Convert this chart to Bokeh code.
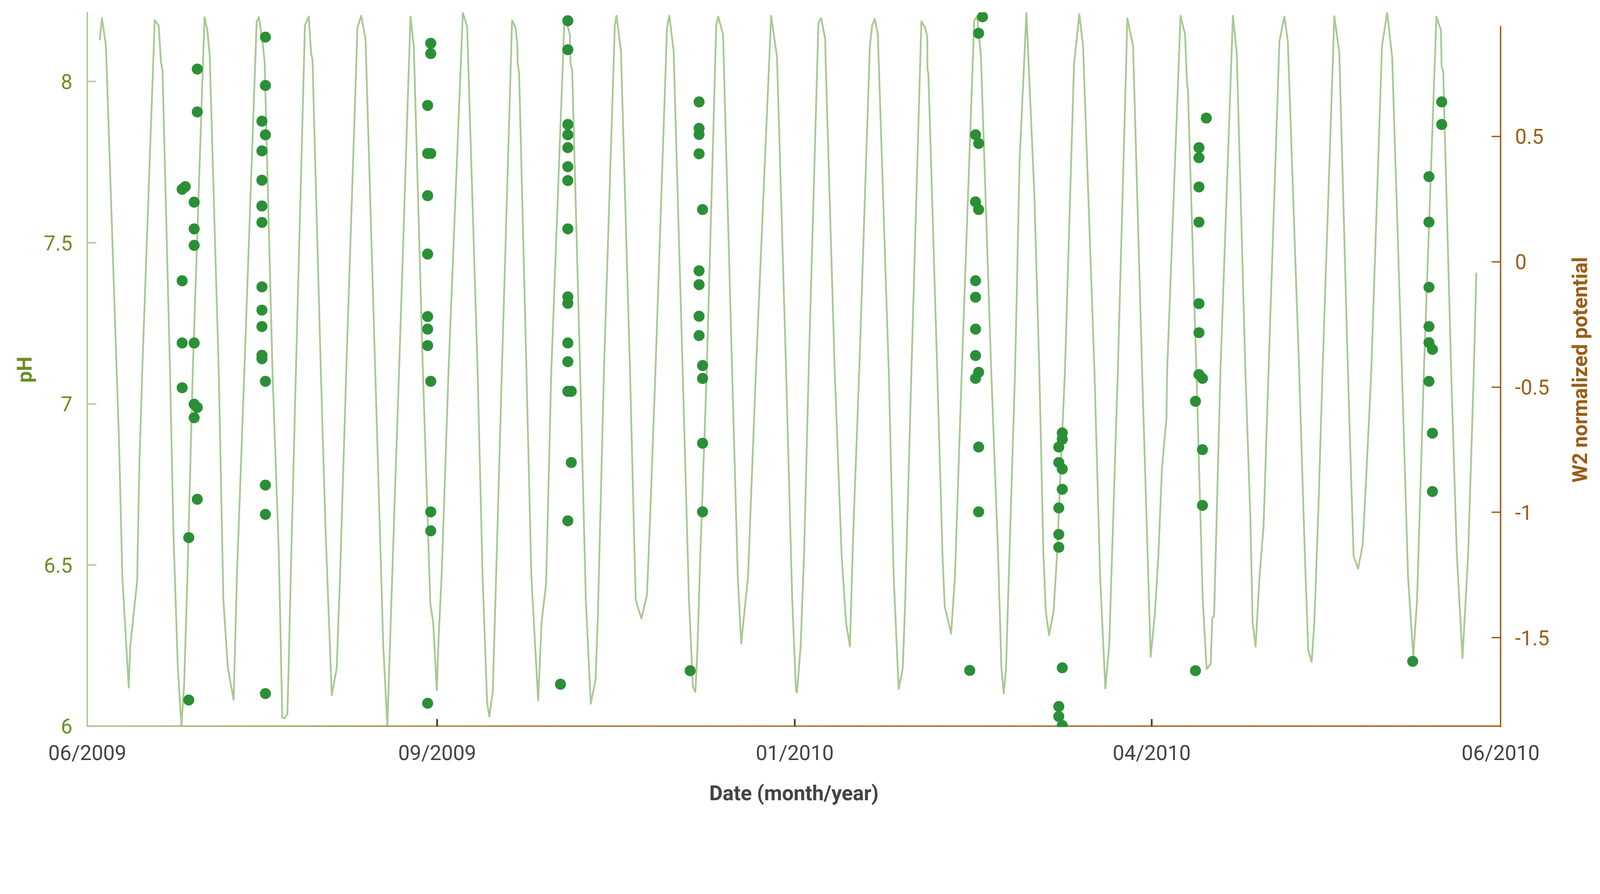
import math
import numpy as np
from bokeh.plotting import figure
from bokeh.layouts import row
from bokeh.models import Range1d, LinearAxis, FixedTicker
from bokeh.core.properties import value
from bokeh.embed import file_html
from bokeh.resources import INLINE

# ---------------- data ----------------
# x in days after the start of the record (06/2009)
x_tick_days = [0, 90.35, 182.71, 274.90, 365]
x_tick_labels = ["06/2009", "09/2009", "01/2010", "04/2010", "06/2010"]

ph_ticks = [6, 6.5, 7, 7.5, 8]
ph_tick_labels = ["6", "6.5", "7", "7.5", "8"]

pot_ticks = [-1.5, -1, -0.5, 0, 0.5]
pot_tick_labels = ["-1.5", "-1", "-0.5", "0", "0.5"]

# W2 normalized potential (right axis) - light green line
line_day = [
    3.20, 3.78, 4.82, 7.58, 8.18, 9.05, 10.70, 11.11, 12.86, 13.46,
    14.19, 17.41, 18.42, 19.02, 19.43, 21.36, 22.23, 23.38, 24.30, 24.99,
    25.86, 26.63, 27.24, 30.27, 31.00, 31.61, 33.94, 35.14, 36.30, 37.80,
    38.63, 40.56, 43.74, 44.32, 45.38, 45.79, 47.82, 49.47, 50.35, 50.94,
    51.67, 51.99, 52.68, 53.88, 56.21, 57.19, 57.79, 58.15, 60.31, 61.50,
    63.13, 64.41, 65.27, 66.88, 69.77, 70.74, 71.86, 74.36, 76.43, 77.49,
    79.32, 80.52, 83.46, 84.33, 86.67, 88.60, 89.34, 90.26, 90.78, 91.54,
    93.29, 96.99, 98.10, 100.80, 102.09, 103.26, 103.85, 104.72, 105.41, 107.07,
    109.70, 110.59, 111.05, 111.16, 111.52, 113.41, 114.69, 116.44, 117.32, 118.49,
    119.84, 123.18, 123.65, 124.64, 124.81, 125.23, 127.28, 128.75, 130.03, 131.26,
    131.85, 133.43, 136.24, 136.65, 137.82, 140.16, 141.63, 143.10, 144.55, 145.44,
    146.73, 149.72, 150.31, 151.42, 153.76, 155.39, 156.40, 157.04, 157.56, 158.33,
    159.98, 162.43, 162.96, 164.19, 166.53, 168.00, 168.87, 170.64, 172.68, 176.61,
    178.13, 180.47, 182.05, 183.04, 183.31, 184.23, 185.12, 186.30, 188.82, 189.51,
    190.57, 190.69, 193.03, 194.80, 195.96, 196.95, 197.83, 199.36, 202.11, 202.70,
    203.40, 204.17, 206.98, 208.26, 209.55, 210.60, 211.19, 212.84, 215.41, 216.35,
    216.94, 216.98, 217.23, 219.51, 220.86, 221.44, 223.09, 224.08, 225.85, 229.06,
    229.82, 230.81, 233.45, 235.22, 236.09, 236.69, 237.27, 238.16, 239.61, 240.78,
    242.54, 244.59, 245.87, 246.93, 247.53, 248.40, 249.57, 250.45, 252.49, 254.84,
    256.19, 257.17, 260.11, 261.58, 262.92, 263.92, 266.15, 268.61, 270.08, 270.66,
    272.42, 274.63, 275.77, 276.65, 277.53, 278.71, 278.88, 282.34, 283.51, 283.98,
    284.27, 286.44, 288.08, 289.08, 290.13, 290.54, 291.01, 292.65, 295.87, 296.86,
    299.09, 300.39, 300.96, 301.73, 302.73, 303.78, 305.07, 307.88, 309.17, 310.05,
    312.98, 314.44, 315.32, 316.20, 316.90, 317.96, 319.02, 322.06, 323.35, 325.57,
    326.46, 327.04, 328.21, 329.38, 330.26, 331.61, 334.37, 335.72, 337.00, 339.52,
    341.10, 342.45, 343.43, 345.20, 348.42, 349.59, 349.77, 350.18, 352.23, 353.69,
    355.16, 356.63, 358.09, 358.74,
]
line_pot = [
    0.883, 0.972, 0.861, -0.435, -0.708, -1.257, -1.699, -1.531, -1.275, -0.800,
    -0.435, 0.963, 0.943, 0.797, 0.760, -0.435, -1.074, -1.621, -1.852, -1.695,
    -1.257, -0.800, -0.435, 0.975, 0.924, 0.824, -0.435, -1.348, -1.621, -1.748,
    -1.257, -0.435, 0.956, 0.975, 0.861, 0.797, -0.435, -1.165, -1.818, -1.821,
    -1.804, -1.621, -1.165, -0.435, 0.943, 0.978, 0.833, 0.806, -0.435, -1.056,
    -1.729, -1.621, -1.257, -0.435, 0.934, 0.981, 0.888, -0.435, -1.531, -1.852,
    -0.983, -0.435, 0.978, 0.856, -0.435, -1.366, -1.439, -1.709, -1.485, -1.239,
    -0.435, 0.993, 0.938, -0.435, -1.257, -1.759, -1.814, -1.713, -1.348, -0.435,
    0.963, 0.934, 0.870, 0.788, 0.755, -0.435, -1.257, -1.750, -1.439, -1.284,
    -0.435, 0.947, 0.961, 0.906, 0.788, 0.765, -0.435, -1.348, -1.763, -1.668,
    -1.421, -0.435, 0.943, 0.981, 0.842, -0.435, -1.348, -1.423, -1.329, -0.983,
    -0.435, 0.934, 0.981, 0.842, -0.435, -1.348, -1.695, -1.716, -1.549, -1.165,
    -0.435, 0.943, 0.977, 0.906, -0.435, -1.257, -1.523, -1.257, -0.435, 0.981,
    0.815, -0.435, -1.348, -1.713, -1.718, -1.531, -1.165, -0.435, 0.952, 0.972,
    0.888, 0.797, -0.435, -1.165, -1.439, -1.535, -1.074, -0.435, 0.861, 0.943,
    0.968, 0.906, -0.435, -1.257, -1.704, -1.622, -1.375, -0.435, 0.959, 0.934,
    0.897, 0.769, 0.747, -0.435, -1.165, -1.375, -1.483, -1.257, -0.435, 0.961,
    0.979, 0.815, -0.435, -1.165, -1.622, -1.722, -1.622, -1.165, -0.435, 0.404,
    0.993, 0.267, -0.435, -1.165, -1.393, -1.489, -1.393, -1.165, -0.435, 0.788,
    0.987, 0.861, -0.435, -1.257, -1.702, -1.531, -0.435, 0.970, 0.861, 0.541,
    -0.435, -1.576, -1.393, -1.165, -0.827, -0.622, -0.435, 0.981, 0.906, 0.724,
    0.678, -0.435, -1.348, -1.625, -1.604, -1.421, -1.412, -0.435, 0.981, 0.833,
    -0.435, -1.028, -1.439, -1.535, -1.257, -1.056, -0.435, 0.879, 0.977, 0.879,
    -0.435, -1.165, -1.549, -1.596, -1.439, -0.983, -0.435, 0.979, 0.833, -0.435,
    -0.891, -1.174, -1.224, -1.129, -0.873, -0.435, 0.861, 0.995, 0.815, -0.435,
    -1.257, -1.576, -1.348, -0.435, 0.977, 0.924, 0.778, 0.760, -0.435, -1.165,
    -1.581, -1.165, -0.435, -0.044,
]

# pH samples (left axis) - dark green dots, nine sampling campaigns
ph_day = [
    28.4, 28.4, 24.5, 25.3, 27.6, 27.6, 27.6, 24.5, 24.5, 27.6, 24.5, 27.6, 28.4, 27.6, 28.4, 26.2, 26.2,
    46.0, 46.0, 45.1, 46.0, 45.1, 45.1, 45.1, 45.1, 45.1, 45.1, 45.1, 45.1, 45.1, 46.0, 46.0, 46.0, 46.0,
    88.7, 88.7, 87.9, 87.9, 88.7, 87.9, 87.9, 87.9, 87.9, 87.9, 88.7, 88.7, 88.7, 87.9,
    124.1, 124.1, 124.1, 124.1, 124.1, 124.1, 124.1, 124.1, 124.1, 124.1, 124.1, 124.1, 124.1, 125.0, 125.0, 124.1, 122.2,
    158.0, 158.0, 158.0, 158.0, 158.9, 158.0, 158.0, 158.0, 158.0, 158.9, 158.9, 158.9, 158.9, 155.7,
    231.2, 230.2, 229.4, 230.2, 229.4, 230.2, 229.4, 229.4, 229.4, 229.4, 230.2, 229.4, 230.2, 230.2, 227.9,
    251.8, 251.8, 250.9, 250.9, 251.8, 251.8, 250.9, 250.9, 250.9, 251.8, 250.9, 250.9, 251.8,
    289.0, 287.1, 287.1, 287.1, 287.1, 287.1, 287.1, 287.1, 288.0, 286.2, 288.0, 288.0, 286.2,
    349.8, 349.8, 346.5, 346.5, 346.5, 346.5, 346.5, 347.4, 346.5, 347.4, 347.4, 342.3,
]
ph_value = [
    8.039, 7.906, 7.666, 7.674, 7.626, 7.543, 7.492, 7.382, 7.189, 7.189, 7.050, 6.999, 6.989, 6.957, 6.704, 6.585, 6.081,
    8.138, 7.988, 7.877, 7.835, 7.785, 7.694, 7.614, 7.563, 7.363, 7.291, 7.240, 7.151, 7.140, 7.070, 6.748, 6.657, 6.101,
    8.119, 8.087, 7.926, 7.777, 7.777, 7.646, 7.465, 7.271, 7.232, 7.181, 7.070, 6.665, 6.606, 6.071,
    8.189, 8.099, 7.867, 7.835, 7.795, 7.736, 7.693, 7.543, 7.332, 7.312, 7.189, 7.131, 7.039, 7.039, 6.818, 6.637, 6.130,
    7.937, 7.855, 7.836, 7.776, 7.603, 7.413, 7.370, 7.272, 7.212, 7.119, 7.079, 6.878, 6.665, 6.172,
    8.201, 8.150, 7.835, 7.808, 7.627, 7.603, 7.382, 7.331, 7.232, 7.150, 7.098, 7.079, 6.866, 6.665, 6.173,
    6.910, 6.890, 6.866, 6.818, 6.798, 6.735, 6.677, 6.595, 6.555, 6.181, 6.061, 6.030, 6.002,
    7.887, 7.795, 7.764, 7.673, 7.564, 7.311, 7.221, 7.091, 7.079, 7.008, 6.858, 6.685, 6.172,
    7.937, 7.867, 7.705, 7.564, 7.362, 7.240, 7.190, 7.169, 7.070, 6.909, 6.728, 6.201,
]
assert len(line_day) == len(line_pot)
assert len(ph_day) == len(ph_value)

right_title = "W2 normalized potential"

# ---------------- styling ----------------
K = 1 / 1.098          # page scale: CSS px per reference px


def px(v):
    return v * K


def fpx(v):
    return "%.1fpx" % (v * K)


FONT = "Roboto"
LINE_GREEN = "#a8c991"
DOT_GREEN = "#2b8f37"
PH_COLOR = "#6b8e23"
POT_COLOR = "#9b5e17"
GREY = "#444444"
FS = fpx(58)

W_TOTAL, H = 4087, 2069
W2 = 97                    # narrow strip that carries the right-hand title
W = W_TOTAL - W2
BL, BR, BT, BB = 223, 149, 31, 208
p = figure(width=W, height=H,
           x_range=Range1d(0, 365), y_range=Range1d(5.99724, 8.21511),
           output_backend="svg", toolbar_location=None,
           min_border_left=BL, min_border_right=BR,
           min_border_top=BT, min_border_bottom=BB)
p.extra_y_ranges = {"pot": Range1d(-1.85595, 0.99461)}
p.xgrid.visible = False
p.ygrid.visible = False
p.outline_line_color = None
p.background_fill_color = "white"
p.border_fill_color = "white"

# potential line
p.line(line_day, line_pot, y_range_name="pot", line_color=LINE_GREEN,
       line_width=px(5), line_join="round")

# bottom axis line drawn as a green -> brown gradient
n = 120
edges = np.linspace(x_tick_days[0], x_tick_days[-1], n + 1)
c0 = np.array([168, 201, 145])
c1 = np.array([166, 128, 60])
c2 = np.array([158, 104, 34])
cols = []
for t in (edges[:-1] + edges[1:]) / 2 / x_tick_days[-1]:
    if t < 0.3:
        c = c0 + (c1 - c0) * (t / 0.3)
    else:
        c = c1 + (c2 - c1) * ((t - 0.3) / 0.7)
    cols.append("#%02x%02x%02x" % tuple(int(round(v)) for v in c))
p.segment(x0=edges[:-1], x1=edges[1:], y0=ph_ticks[0], y1=ph_ticks[0],
          line_color=cols, line_width=px(4.5))
# inner x tick marks
inner = x_tick_days[1:-1]
p.segment(x0=inner, x1=inner, y0=ph_ticks[0], y1=ph_ticks[0] + 20 / 906.5,
          line_color="#333333", line_width=px(4.5))

# pH dots
p.scatter(ph_day, ph_value, size=px(31), fill_color=DOT_GREEN, line_color=None)

# left axis (pH)
ya = p.yaxis[0]
ya.ticker = FixedTicker(ticks=ph_ticks)
ya.major_label_overrides = dict(zip(ph_ticks, ph_tick_labels))
ya.axis_line_color = LINE_GREEN
ya.axis_line_width = px(4)
ya.major_tick_line_color = LINE_GREEN
ya.major_tick_line_width = px(4)
ya.major_tick_in = int(round(px(25)))
ya.major_tick_out = 0
ya.minor_tick_line_color = None
ya.major_label_text_color = PH_COLOR
ya.major_label_text_font = FONT
ya.major_label_text_font_size = FS
ya.major_label_standoff = int(round(px(42)))
ya.axis_label = "pH"
ya.axis_label_text_color = PH_COLOR
ya.axis_label_text_font = FONT
ya.axis_label_text_font_style = "bold"
ya.axis_label_text_font_size = FS
ya.axis_label_standoff = int(round(px(17)))

# bottom axis (dates)
xa = p.xaxis[0]
xa.ticker = FixedTicker(ticks=x_tick_days)
xa.major_label_overrides = dict(zip(x_tick_days, x_tick_labels))
xa.axis_line_color = None
xa.major_tick_line_color = None
xa.minor_tick_line_color = None
xa.major_tick_in = 0
xa.major_tick_out = 0
xa.major_label_text_color = GREY
xa.major_label_text_font = FONT
xa.major_label_text_font_size = FS
xa.major_label_standoff = int(round(px(38)))
xa.axis_label = "Date (month/year)"
xa.axis_label_text_color = GREY
xa.axis_label_text_font = FONT
xa.axis_label_text_font_style = "bold"
xa.axis_label_text_font_size = FS
xa.axis_label_standoff = int(round(px(42)))

# right axis (W2 normalized potential)
ra = LinearAxis(y_range_name="pot", ticker=FixedTicker(ticks=pot_ticks),
                bounds=(-1.85595, 0.9407))
ra.major_label_overrides = dict(zip(pot_ticks, pot_tick_labels))
ra.axis_line_color = POT_COLOR
ra.axis_line_width = px(4)
ra.major_tick_line_color = POT_COLOR
ra.major_tick_line_width = px(4)
ra.major_tick_in = int(round(px(25)))
ra.major_tick_out = 0
ra.minor_tick_line_color = None
ra.major_label_text_color = POT_COLOR
ra.major_label_text_font = FONT
ra.major_label_text_font_size = FS
ra.major_label_standoff = int(round(px(41)))
p.add_layout(ra, "right")

# narrow strip holding the right-hand axis title (reads bottom -> top)
p2 = figure(width=W2, height=H, x_range=Range1d(0, W2), y_range=Range1d(0, H),
            output_backend="svg", toolbar_location=None,
            x_axis_location=None, y_axis_location=None,
            min_border=0, min_border_left=0, min_border_right=0,
            min_border_top=0, min_border_bottom=0)
p2.xgrid.visible = False
p2.ygrid.visible = False
p2.outline_line_color = None
p2.background_fill_color = "white"
p2.border_fill_color = "white"
title_cx = (4450 / 1.098 - 8) - W              # centre of the title in strip pixels
title_cy = H - (BT + (H - BT - BB) / 2) - 89   # vertical centre of the main frame (measured offset)
p2.text(x=[title_cx], y=[title_cy], text=[right_title], angle=math.pi / 2,
        text_align="center", text_baseline="middle",
        text_font=value(FONT), text_font_style="bold",
        text_font_size=value(FS), text_color=POT_COLOR)

layout = row(p, p2, spacing=0)
open("out.html", "w").write(file_html(layout, INLINE))
